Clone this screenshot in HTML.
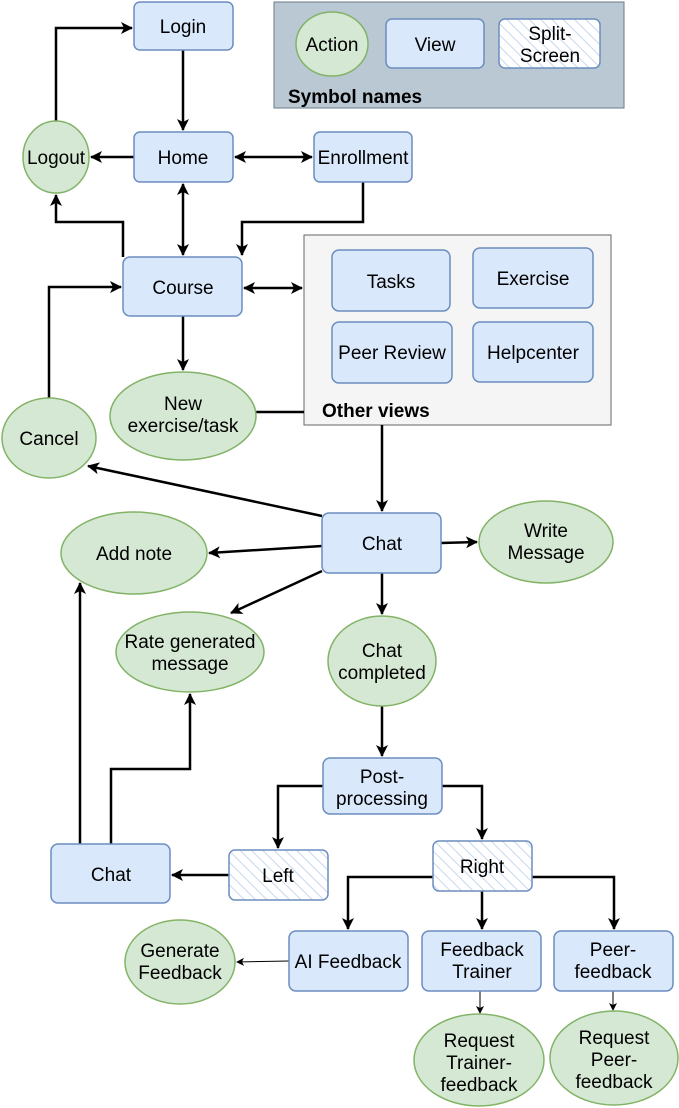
<!DOCTYPE html>
<html><head><meta charset="utf-8"><style>
html,body{margin:0;padding:0;background:#fff}
svg{display:block}
text{font-family:"Liberation Sans",Arial,sans-serif;font-size:19px;fill:#000}
.v{fill:#dae8fc;stroke:#6c8ebf;stroke-width:1.5}
.a{fill:#d5e8d4;stroke:#82b366;stroke-width:1.5}
.h{fill:url(#hatch);stroke:#6c8ebf;stroke-width:1.5}
.l{fill:none;stroke:#000;stroke-width:2.5}
.t{fill:none;stroke:#000;stroke-width:1}
</style></head><body>
<svg width="679" height="1108" viewBox="0 0 679 1108" xmlns="http://www.w3.org/2000/svg">
<defs>
<pattern id="hatch" width="8" height="8" patternUnits="userSpaceOnUse" patternTransform="rotate(-45)">
<rect width="8" height="8" fill="#fff"/><line x1="0" y1="0" x2="0" y2="8" stroke="#c5d7ee" stroke-width="2"/></pattern>
<marker id="ar" markerWidth="8" markerHeight="8" refX="7" refY="4" orient="auto" markerUnits="userSpaceOnUse" viewBox="0 0 8 8"><path d="M0,0 L8,4 L0,8 L2,4 z" fill="#000"/></marker>
<marker id="ar2" markerWidth="12" markerHeight="12" refX="11" refY="6" orient="auto-start-reverse" markerUnits="userSpaceOnUse" viewBox="0 0 12 12"><path d="M0,0 L12,6 L0,12 L3,6 z" fill="#000"/></marker>
</defs>

<rect x="274" y="2" width="350" height="106" fill="#bac8d3" stroke="#6b7b8a" stroke-width="1"/>
<ellipse cx="332" cy="44" rx="36" ry="32" class="a"/><text x="332" y="51" text-anchor="middle">Action</text>
<rect x="386" y="19" width="98" height="49" rx="6" class="v"/><text x="435" y="51" text-anchor="middle">View</text>
<rect x="499" y="19" width="101" height="49" rx="6" class="h"/><text x="550" y="40" text-anchor="middle">Split-</text><text x="550" y="62" text-anchor="middle">Screen</text>
<text x="288" y="103" style="font-weight:bold">Symbol names</text>

<rect x="304" y="235" width="307" height="190" fill="#f5f5f5" stroke="#666" stroke-width="1"/>
<rect x="332" y="250" width="118" height="61" rx="7" class="v"/><text x="391" y="288" text-anchor="middle">Tasks</text>
<rect x="473" y="248" width="120" height="60" rx="7" class="v"/><text x="533" y="285" text-anchor="middle">Exercise</text>
<rect x="332" y="322" width="120" height="61" rx="7" class="v"/><text x="392" y="359" text-anchor="middle">Peer Review</text>
<rect x="473" y="322" width="120" height="60" rx="7" class="v"/><text x="533" y="359" text-anchor="middle">Helpcenter</text>
<text x="322" y="417" style="font-weight:bold">Other views</text>

<path class="l" d="M56,121 V28 H132" marker-end="url(#ar2)"/>
<path class="l" d="M183,50 V130" marker-end="url(#ar2)"/>
<path class="l" d="M134,157 H91" marker-end="url(#ar2)"/>
<path class="l" d="M235,157 H312" marker-start="url(#ar2)" marker-end="url(#ar2)"/>
<path class="l" d="M183,184 V255" marker-start="url(#ar2)" marker-end="url(#ar2)"/>
<path class="l" d="M123,257 V222 H56 V195" marker-end="url(#ar2)"/>
<path class="l" d="M363,182 V222 H242 V255" marker-end="url(#ar2)"/>
<path class="l" d="M244,288 H302" marker-start="url(#ar2)" marker-end="url(#ar2)"/>
<path class="l" d="M183,316 V370" marker-end="url(#ar2)"/>
<path class="l" d="M256,412 H304"/>
<path class="l" d="M382,425 V511" marker-end="url(#ar2)"/>
<path class="l" d="M49,398 V287 H121" marker-end="url(#ar2)"/>
<path class="l" d="M322,516 L88,466" marker-end="url(#ar2)"/>
<path class="l" d="M322,546 L209,553" marker-end="url(#ar2)"/>
<path class="l" d="M441,543 L477,542" marker-end="url(#ar2)"/>
<path class="l" d="M322,571 L231,613" marker-end="url(#ar2)"/>
<path class="l" d="M382,573 V614" marker-end="url(#ar2)"/>
<path class="l" d="M382,706 V756" marker-end="url(#ar2)"/>
<path class="l" d="M323,786 H278 V848" marker-end="url(#ar2)"/>
<path class="l" d="M442,786 H482 V839" marker-end="url(#ar2)"/>
<path class="l" d="M229,875 H172" marker-end="url(#ar2)"/>
<path class="l" d="M80,844 V583" marker-end="url(#ar2)"/>
<path class="l" d="M111,844 V769 H190 V694" marker-end="url(#ar2)"/>
<path class="l" d="M433,877 H348 V929" marker-end="url(#ar2)"/>
<path class="l" d="M482,891 V929" marker-end="url(#ar2)"/>
<path class="l" d="M532,877 H614 V929" marker-end="url(#ar2)"/>
<path class="t" d="M289,961 L237,962" marker-end="url(#ar)"/>
<path class="t" d="M480,991 V1013" marker-end="url(#ar)"/>
<path class="t" d="M613,991 V1010" marker-end="url(#ar)"/>

<rect x="134" y="2" width="99" height="48" rx="6" class="v"/><text x="183" y="33" text-anchor="middle">Login</text>
<rect x="134" y="132" width="99" height="50" rx="6" class="v"/><text x="183" y="164" text-anchor="middle">Home</text>
<ellipse cx="56" cy="157" rx="33" ry="36" class="a"/><text x="56" y="164" text-anchor="middle">Logout</text>
<rect x="314" y="132" width="98" height="50" rx="6" class="v"/><text x="363" y="164" text-anchor="middle">Enrollment</text>
<rect x="123" y="257" width="119" height="59" rx="7" class="v"/><text x="183" y="294" text-anchor="middle">Course</text>
<ellipse cx="183" cy="416" rx="73" ry="44" class="a"/><text x="183" y="410" text-anchor="middle">New</text><text x="183" y="432" text-anchor="middle">exercise/task</text>
<ellipse cx="49" cy="438" rx="47" ry="40" class="a"/><text x="49" y="445" text-anchor="middle">Cancel</text>
<rect x="322" y="513" width="119" height="60" rx="7" class="v"/><text x="382" y="550" text-anchor="middle">Chat</text>
<ellipse cx="134" cy="553" rx="73" ry="41" class="a"/><text x="134" y="560" text-anchor="middle">Add note</text>
<ellipse cx="546" cy="542" rx="67" ry="41" class="a"/><text x="546" y="537" text-anchor="middle">Write</text><text x="546" y="559" text-anchor="middle">Message</text>
<ellipse cx="190" cy="652" rx="74" ry="40" class="a"/><text x="190" y="648" text-anchor="middle">Rate generated</text><text x="190" y="670" text-anchor="middle">message</text>
<ellipse cx="382" cy="661" rx="54" ry="45" class="a"/><text x="382" y="657" text-anchor="middle">Chat</text><text x="382" y="679" text-anchor="middle">completed</text>
<rect x="323" y="758" width="119" height="56" rx="7" class="v"/><text x="382" y="783" text-anchor="middle">Post-</text><text x="382" y="805" text-anchor="middle">processing</text>
<rect x="229" y="850" width="99" height="50" rx="6" class="h"/><text x="278" y="882" text-anchor="middle">Left</text>
<rect x="433" y="841" width="99" height="50" rx="6" class="h"/><text x="482" y="873" text-anchor="middle">Right</text>
<rect x="51" y="844" width="119" height="59" rx="7" class="v"/><text x="111" y="881" text-anchor="middle">Chat</text>
<rect x="289" y="931" width="119" height="60" rx="7" class="v"/><text x="348" y="968" text-anchor="middle">AI Feedback</text>
<rect x="422" y="931" width="119" height="60" rx="7" class="v"/><text x="482" y="956" text-anchor="middle">Feedback</text><text x="482" y="978" text-anchor="middle">Trainer</text>
<rect x="554" y="931" width="119" height="60" rx="7" class="v"/><text x="613" y="956" text-anchor="middle">Peer-</text><text x="613" y="978" text-anchor="middle">feedback</text>
<ellipse cx="180" cy="962" rx="55" ry="42" class="a"/><text x="180" y="957" text-anchor="middle">Generate</text><text x="180" y="979" text-anchor="middle">Feedback</text>
<ellipse cx="479" cy="1060" rx="65" ry="46" class="a"/><text x="479" y="1047" text-anchor="middle">Request</text><text x="479" y="1069" text-anchor="middle">Trainer-</text><text x="479" y="1091" text-anchor="middle">feedback</text>
<ellipse cx="614" cy="1058" rx="64" ry="47" class="a"/><text x="614" y="1044" text-anchor="middle">Request</text><text x="614" y="1066" text-anchor="middle">Peer-</text><text x="614" y="1088" text-anchor="middle">feedback</text>
</svg>
</body></html>
